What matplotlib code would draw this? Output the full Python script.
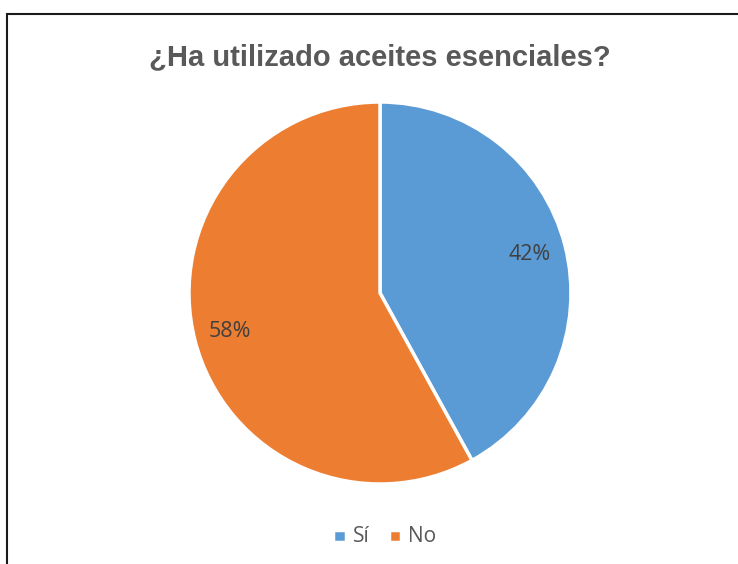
import matplotlib.pyplot as plt
from matplotlib.patches import Rectangle

labels = ['Sí', 'No']
values = [42, 58]
colors = ['#5B9BD5', '#ED7D31']

W, H = 738, 564
fig = plt.figure(figsize=(W / 100, H / 100), dpi=100)

# chart frame (only left, top and right edges are visible)
fig.patches.append(Rectangle((7 / W, -0.1), 1.0, 1.1 - 14 / H, transform=fig.transFigure,
                             fill=False, edgecolor='#1a1a1a', linewidth=1.5))

# pie area: center (380, 293), radius 191 px
cx, cy, r = 380, 293, 191
ax = fig.add_axes([(cx - r) / W, (H - cy - r) / H, 2 * r / W, 2 * r / H])
wedges, _, autotexts = ax.pie(values, colors=colors, startangle=90, counterclock=False,
                              autopct='%1.0f%%', pctdistance=0.81,
                              wedgeprops=dict(edgecolor='white', linewidth=2.5),
                              textprops=dict(color='#404040', fontsize=15.5, family='Open Sans'))
ax.set_xlim(-1.0, 1.0)
ax.set_ylim(-1.0, 1.0)
ax.set_aspect('equal')
ax.axis('off')

fig.text(380 / W, 1 - 57 / H, '¿Ha utilizado aceites esenciales?', ha='center', va='center',
         fontsize=21, fontweight='bold', color='#595959', family='Liberation Sans')

fig.legend(wedges, labels, loc='center', bbox_to_anchor=(385 / W, 1 - 537 / H), ncol=2,
           frameon=False, handlelength=0.45, handleheight=0.65, handletextpad=0.5,
           columnspacing=0.9, prop=dict(family='Open Sans', size=15), labelcolor='#595959')
for h in fig.legends[0].legend_handles:
    h.set_height(9)
    h.set_width(9)

fig.savefig('out.png', dpi=100)
